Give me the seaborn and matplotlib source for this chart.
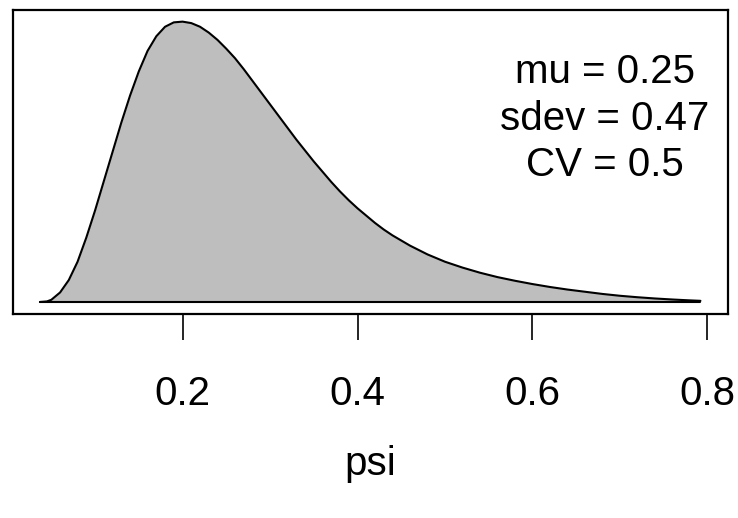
import matplotlib
matplotlib.use("Agg")
import matplotlib.pyplot as plt
import pandas as pd
import seaborn as sns

# Density curve of psi (x) and its height (y)
psi = [0.037, 0.045, 0.050, 0.060, 0.070, 0.080, 0.090, 0.100, 0.110, 0.120,
       0.130, 0.140, 0.150, 0.160, 0.170, 0.180, 0.190, 0.200, 0.210, 0.220,
       0.230, 0.240, 0.250, 0.260, 0.270, 0.280, 0.290, 0.300, 0.310, 0.320,
       0.330, 0.340, 0.350, 0.360, 0.370, 0.380, 0.390, 0.400, 0.410, 0.420,
       0.430, 0.440, 0.450, 0.460, 0.470, 0.480, 0.490, 0.500, 0.520, 0.540,
       0.560, 0.580, 0.600, 0.620, 0.640, 0.660, 0.680, 0.700, 0.720, 0.740,
       0.760, 0.780, 0.792]
density = [0.000, 0.008, 0.030, 0.130, 0.300, 0.550, 0.880, 1.250, 1.650, 2.050,
           2.450, 2.820, 3.150, 3.430, 3.630, 3.760, 3.820, 3.830, 3.810, 3.760,
           3.680, 3.580, 3.460, 3.330, 3.180, 3.020, 2.860, 2.700, 2.540, 2.380,
           2.220, 2.070, 1.920, 1.780, 1.640, 1.510, 1.390, 1.280, 1.180, 1.080,
           0.990, 0.910, 0.840, 0.770, 0.710, 0.650, 0.600, 0.550, 0.470, 0.400,
           0.340, 0.290, 0.245, 0.205, 0.170, 0.140, 0.110, 0.085, 0.065, 0.048,
           0.034, 0.022, 0.016]

stats_labels = ["mu = 0.25", "sdev = 0.47", "CV = 0.5"]
tick_values = [0.2, 0.4, 0.6, 0.8]
tick_labels = ["0.2", "0.4", "0.6", "0.8"]

sns.set_theme(style="white")
plt.rcParams["font.family"] = ["Liberation Sans", "DejaVu Sans"]

fig = plt.figure(figsize=(7.38, 5.18), dpi=100)
ax = fig.add_axes([13 / 738, 1 - 314 / 518, 715 / 738, 304 / 518])

df = pd.DataFrame({"psi": psi, "density": density})

ax.fill_between(df["psi"], 0, df["density"], color="#bebebe", lw=0)
sns.lineplot(data=df, x="psi", y="density", color="black", lw=1.5,
             sort=False, ax=ax)
ax.plot([psi[0], psi[-1]], [0, 0], color="black", lw=1.5)

ax.set_xlim(0.0062, 0.8235)
ax.set_ylim(-0.164, 3.989)

for sp in ax.spines.values():
    sp.set_visible(True)
    sp.set_color("black")
    sp.set_linewidth(1.6)

ax.set_yticks([])
ax.set_ylabel("")
ax.set_xticks(tick_values, tick_labels)
ax.tick_params(axis="x", bottom=True, direction="out", length=18.7, width=1.2,
               color="black", pad=25, labelsize=29, labelcolor="black")
ax.set_xlabel("psi", fontsize=29, labelpad=23, color="black")

ax.text(0.828, 0.642, "\n".join(stats_labels), transform=ax.transAxes,
        ha="center", va="center", multialignment="center",
        fontsize=29, linespacing=1.28, color="black")

fig.savefig("out.png", dpi=100)
